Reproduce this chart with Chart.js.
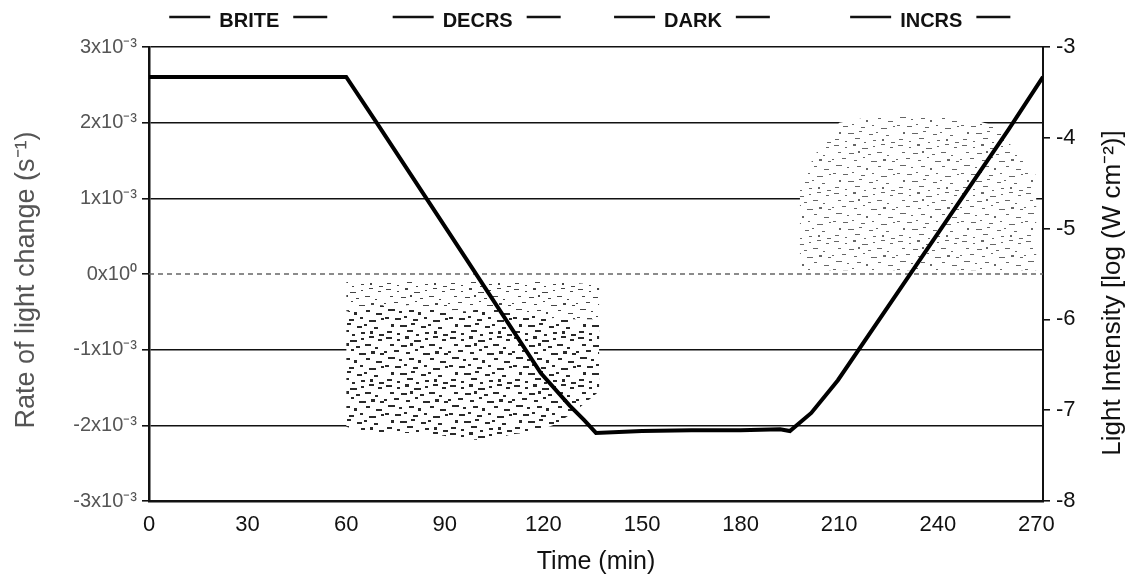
<!DOCTYPE html>
<html>
<head>
<meta charset="utf-8">
<script src="https://cdn.jsdelivr.net/npm/chart.js@4"></script>
<style>
html, body { margin: 0; padding: 0; background: #fff; }
</style>
</head>
<body>
<canvas id="myChart" width="1131" height="581"></canvas>
<script>
// light intensity trace, right axis, log (W cm-2)
const lightTime = [0, 60, 69.4, 96.8, 119.2, 128, 132.4, 136, 150, 165, 180, 192, 195, 201.5, 209.6, 229, 261.5, 272];
const lightLog = [-3.33, -3.33, -3.84, -5.35, -6.59, -6.95, -7.11, -7.25, -7.23, -7.22, -7.22, -7.21, -7.23, -7.03, -6.67, -5.64, -3.91, -3.33];

// rate of light change, units of 1e-3 s-1
const zeroTime = [0, 272];
const zeroRate = [0, 0];

// scatter cloud while decreasing: top edge, edge of the dense part, bottom edge
const decrsTime = [60, 64, 75, 85, 95, 104, 110, 118, 124, 130, 137];
const decrsTop = [-0.1, -0.08, -0.08, -0.1, -0.08, -0.1, -0.08, -0.1, -0.1, -0.12, -0.15];
const decrsMid = [-0.5, -0.45, -0.4, -0.45, -0.5, -0.45, -0.5, -0.55, -0.6, -0.6, -0.6];
const decrsLow = [-2.02, -2.07, -2.1, -2.1, -2.18, -2.2, -2.12, -2.08, -1.98, -1.8, -1.55];

// scatter cloud while increasing
const incrsTime = [198, 203, 210, 220, 235, 250, 258, 264, 270];
const incrsTop = [1.2, 1.6, 2.0, 2.08, 2.1, 2.05, 1.95, 1.6, 1.3];
const incrsLow = [0.05, 0.05, 0.05, 0.05, 0.05, 0.05, 0.05, 0.05, 0.05];

const timeTicks = [0, 30, 60, 90, 120, 150, 180, 210, 240, 270];
const rateTicks = [-3, -2, -1, 0, 1, 2, 3];
const rateTickLabels = ['-3x10⁻³', '-2x10⁻³', '-1x10⁻³', '0x10⁰', '1x10⁻³', '2x10⁻³', '3x10⁻³'];

const phaseNames = ['BRITE', 'DECRS', 'DARK', 'INCRS'];
const phaseLabelAt = [30.5, 100, 165.5, 238];

const FONT = '"Liberation Sans", Arial, Helvetica, sans-serif';

function pts(xs, ys) {
    return xs.map((x, i) => ({ x: x, y: ys[i] }));
}

// speck tiles for the scatter clouds
const specks = [
    [2,1,5,1],[13,3,2,1],[21,0,3,2],[30,4,6,1],[41,2,2,1],[49,0,4,1],[58,3,3,1],
    [6,8,3,1],[17,9,5,1],[26,7,2,2],[36,10,3,1],[45,8,5,1],[55,11,2,1],
    [0,15,2,1],[10,14,4,1],[22,16,3,1],[31,13,2,1],[39,17,6,1],[51,15,3,2],[60,17,3,1],
    [4,21,6,1],[15,23,2,1],[25,22,4,1],[34,24,2,2],[46,22,3,1],[56,25,5,1],
    [1,29,3,1],[11,30,5,1],[20,28,2,1],[29,31,4,1],[40,29,2,1],[49,32,6,1],[61,30,2,1],
    [7,36,2,2],[16,37,6,1],[27,35,3,1],[37,38,4,1],[44,36,2,1],[54,39,3,1],
    [3,43,4,1],[13,45,2,1],[23,42,5,1],[32,46,2,1],[41,44,3,1],[50,43,2,2],[59,46,4,1]
];
function speckle(color, every, grow) {
    const c = document.createElement('canvas');
    c.width = 64; c.height = 48;
    const g = c.getContext('2d');
    g.fillStyle = '#fff';
    g.fillRect(0, 0, 64, 48);
    g.fillStyle = color;
    specks.forEach((s, i) => {
        if (i % every === 0) g.fillRect(s[0], s[1], s[2] + grow, s[3] + (grow > 0 ? 1 : 0));
    });
    return g.createPattern(c, 'repeat');
}
const densePattern = speckle('#2a2a2a', 1, 1);
const sparsePattern = speckle('#444', 1, 0);
const lightPattern = speckle('#666', 1, 0);

const band = {
    borderColor: 'rgba(0,0,0,0)',
    borderWidth: 0,
    pointRadius: 0,
    tension: 0,
    yAxisID: 'y'
};

const extraText = {
    id: 'extraText',
    afterDraw(chart) {
        const { ctx, scales: { x } } = chart;
        ctx.save();
        ctx.fillStyle = '#111';
        ctx.strokeStyle = '#111';
        ctx.textAlign = 'center';
        ctx.textBaseline = 'middle';
        ctx.font = 'bold 20px ' + FONT;
        ctx.lineWidth = 2.5;
        phaseNames.forEach((name, i) => {
            const cx = x.getPixelForValue(phaseLabelAt[i]);
            const w = ctx.measureText(name).width;
            ctx.fillText(name, cx, 21);
            ctx.beginPath();
            ctx.moveTo(cx - w / 2 - 9, 17);
            ctx.lineTo(cx - w / 2 - 50, 17);
            ctx.moveTo(cx + w / 2 + 14, 17);
            ctx.lineTo(cx + w / 2 + 48, 17);
            ctx.stroke();
        });

        // axis titles, both reading bottom to top
        ctx.font = '27px ' + FONT;
        ctx.fillStyle = '#555';
        ctx.save();
        ctx.translate(27, 280);
        ctx.rotate(-Math.PI / 2);
        ctx.fillText('Rate of light change (s⁻¹)', 0, 0);
        ctx.restore();
        ctx.fillStyle = '#111';
        ctx.font = '26px ' + FONT;
        ctx.save();
        ctx.translate(1113, 293);
        ctx.rotate(-Math.PI / 2);
        ctx.fillText('Light Intensity [log (W cm⁻²)]', 0, 0);
        ctx.restore();
        ctx.restore();
    }
};

var ctx = document.getElementById('myChart').getContext('2d');
var chart = new Chart(ctx, {
    type: 'line',
    data: {
        datasets: [
            {
                label: 'Light intensity',
                data: pts(lightTime, lightLog),
                yAxisID: 'y2',
                borderColor: '#000',
                borderWidth: 4,
                pointRadius: 0,
                tension: 0
            },
            {
                label: 'Rate zero',
                data: pts(zeroTime, zeroRate),
                yAxisID: 'y',
                borderColor: '#666',
                borderWidth: 1.5,
                borderDash: [5, 4],
                pointRadius: 0
            },
            Object.assign({ label: 'decrs top', data: pts(decrsTime, decrsTop), fill: false }, band),
            Object.assign({ label: 'decrs mid', data: pts(decrsTime, decrsMid), fill: '-1', backgroundColor: sparsePattern }, band),
            Object.assign({ label: 'decrs low', data: pts(decrsTime, decrsLow), fill: '-1', backgroundColor: densePattern }, band),
            Object.assign({ label: 'incrs top', data: pts(incrsTime, incrsTop), fill: false }, band),
            Object.assign({ label: 'incrs low', data: pts(incrsTime, incrsLow), fill: '-1', backgroundColor: lightPattern }, band)
        ]
    },
    options: {
        responsive: false,
        animation: false,
        layout: { padding: { top: 47, left: 0, right: 0, bottom: 0 } },
        plugins: {
            legend: { display: false },
            tooltip: { enabled: false }
        },
        scales: {
            x: {
                type: 'linear',
                min: 0,
                max: 272,
                afterBuildTicks: (s) => { s.ticks = timeTicks.map(v => ({ value: v })); },
                ticks: { font: { size: 22, family: FONT }, color: '#111', padding: 11, maxRotation: 0 },
                grid: { display: true, drawOnChartArea: false, drawTicks: false },
                border: { color: '#111', width: 2.5 },
                title: {
                    display: true,
                    text: 'Time (min)',
                    font: { size: 25, family: FONT },
                    color: '#111',
                    padding: { top: 0, bottom: 4 }
                },
                afterFit: (s) => { s.height = 80; }
            },
            y: {
                position: 'left',
                min: -3,
                max: 3,
                ticks: {
                    stepSize: 1,
                    font: { size: 20, family: FONT },
                    color: '#555',
                    padding: 5,
                    callback: (v) => rateTickLabels[rateTicks.indexOf(v)]
                },
                grid: {
                    color: (c) => (c.tick && c.tick.value === 0) ? 'rgba(0,0,0,0)' : '#111',
                    tickColor: '#111',
                    lineWidth: 1.6,
                    tickLength: 7
                },
                border: { color: '#111', width: 2.5 },
                afterFit: (s) => { s.width = 149; }
            },
            y2: {
                position: 'right',
                min: -8,
                max: -3,
                ticks: { stepSize: 1, font: { size: 22, family: FONT }, color: '#111', padding: 6 },
                grid: { drawOnChartArea: false, color: '#111', tickLength: 7, lineWidth: 1.6 },
                border: { color: '#111', width: 2 },
                afterFit: (s) => { s.width = 88; }
            }
        }
    },
    plugins: [extraText]
});
</script>
</body>
</html>
